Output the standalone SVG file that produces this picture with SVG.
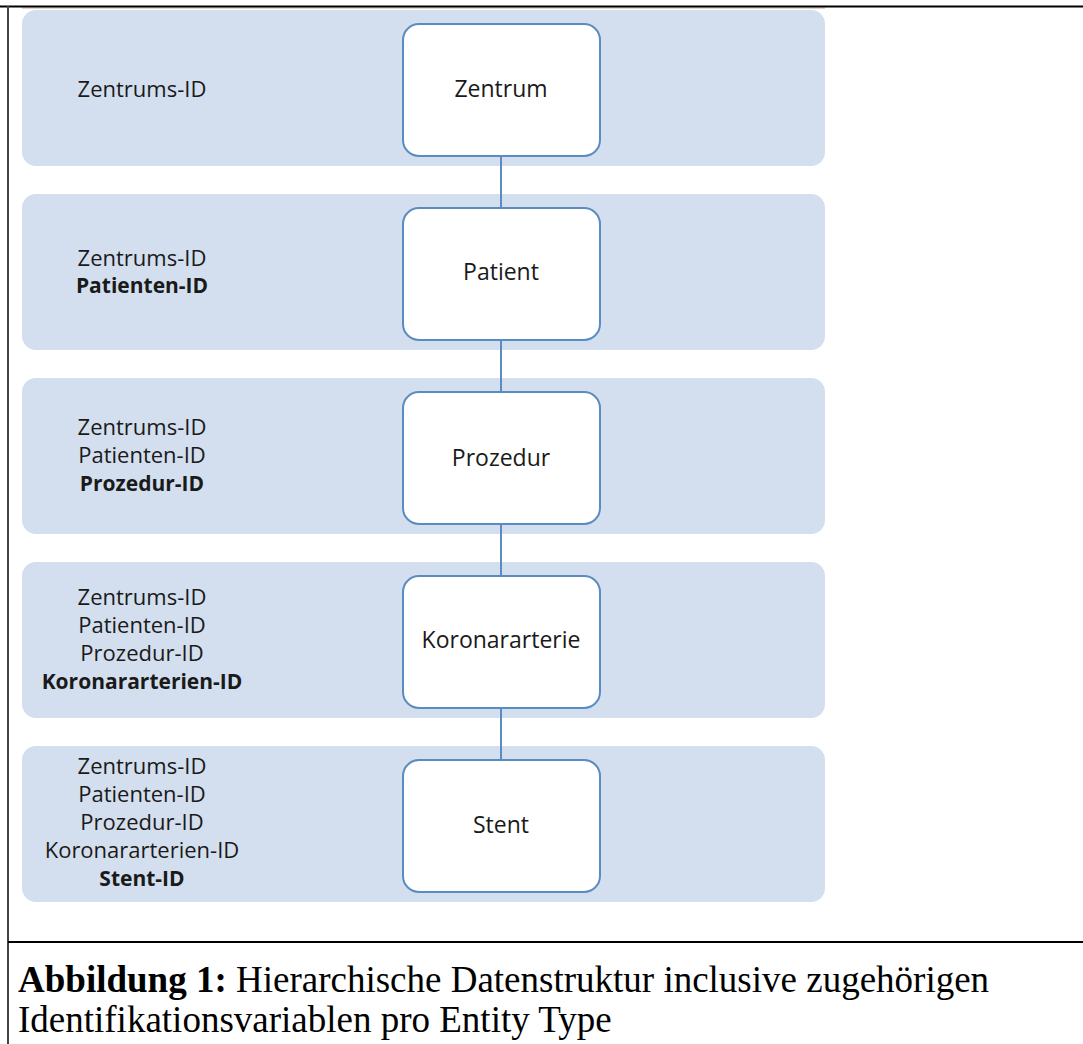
<svg xmlns="http://www.w3.org/2000/svg" width="1083" height="1044" viewBox="0 0 1083 1044">
<style>
.band{fill:#d3dfee}
.node rect{fill:#ffffff;stroke:#5a8cc2;stroke-width:2}
.nt{font-family:"Open Sans","Noto Sans",sans-serif;font-size:23px;fill:#1a1a1a;text-anchor:middle}
.lb{font-family:"Open Sans","Noto Sans",sans-serif;font-size:22px;fill:#1a1a1a;text-anchor:middle}
.lb .b{font-weight:bold;font-size:21px}
.conn line{stroke:#5a8cc2;stroke-width:2}
.cap{font-family:"Liberation Serif","Times New Roman",serif;font-size:37px;fill:#000}
</style>
<rect x="0" y="0" width="1083" height="1044" fill="#ffffff"/>
<g id="bands">
<rect class="band" x="22" y="10" width="803" height="156" rx="14"/>
<rect class="band" x="22" y="194" width="803" height="156" rx="14"/>
<rect class="band" x="22" y="378" width="803" height="156" rx="14"/>
<rect class="band" x="22" y="562" width="803" height="156" rx="14"/>
<rect class="band" x="22" y="746" width="803" height="156" rx="14"/>
</g>
<g id="labels">
<text class="lb" x="142"><tspan x="142" y="97">Zentrums-ID</tspan></text>
<text class="lb" x="142"><tspan x="142" y="266">Zentrums-ID</tspan><tspan class="b" x="142" y="293">Patienten-ID</tspan></text>
<text class="lb" x="142"><tspan x="142" y="435">Zentrums-ID</tspan><tspan x="142" y="463">Patienten-ID</tspan><tspan class="b" x="142" y="491">Prozedur-ID</tspan></text>
<text class="lb" x="142"><tspan x="142" y="605">Zentrums-ID</tspan><tspan x="142" y="633">Patienten-ID</tspan><tspan x="142" y="661">Prozedur-ID</tspan><tspan class="b" x="142" y="689">Koronararterien-ID</tspan></text>
<text class="lb" x="142"><tspan x="142" y="774">Zentrums-ID</tspan><tspan x="142" y="802">Patienten-ID</tspan><tspan x="142" y="830">Prozedur-ID</tspan><tspan x="142" y="858">Koronararterien-ID</tspan><tspan class="b" x="142" y="886">Stent-ID</tspan></text>
</g>
<g id="connectors" class="conn">
<line x1="501" y1="156" x2="501" y2="208"/>
<line x1="501" y1="340" x2="501" y2="392"/>
<line x1="501" y1="524" x2="501" y2="576"/>
<line x1="501" y1="708" x2="501" y2="760"/>
</g>
<g id="node-zentrum" class="node"><rect x="403" y="24" width="197" height="132" rx="16"/><text class="nt" x="501" y="97">Zentrum</text></g>
<g id="node-patient" class="node"><rect x="403" y="208" width="197" height="132" rx="16"/><text class="nt" x="501" y="280">Patient</text></g>
<g id="node-prozedur" class="node"><rect x="403" y="392" width="197" height="132" rx="16"/><text class="nt" x="501" y="466">Prozedur</text></g>
<g id="node-koronararterie" class="node"><rect x="403" y="576" width="197" height="132" rx="16"/><text class="nt" x="501" y="648">Koronararterie</text></g>
<g id="node-stent" class="node"><rect x="403" y="760" width="197" height="132" rx="16"/><text class="nt" x="501" y="833">Stent</text></g>
<g id="frame">
<line x1="22" y1="8" x2="825" y2="8" stroke="#c8aa9c" stroke-width="1"/>
<line x1="0" y1="6.5" x2="1083" y2="6.5" stroke="#000" stroke-width="2"/>
<line x1="8" y1="6" x2="8" y2="1044" stroke="#444" stroke-width="2"/>
<line x1="8" y1="942" x2="1083" y2="942" stroke="#000" stroke-width="2"/>
</g>
<g id="caption">
<text class="cap" x="18" y="992"><tspan font-weight="bold">Abbildung 1:</tspan> Hierarchische Datenstruktur inclusive zugehörigen</text>
<text class="cap" x="18" y="1032">Identifikationsvariablen pro Entity Type</text>
</g>
</svg>
